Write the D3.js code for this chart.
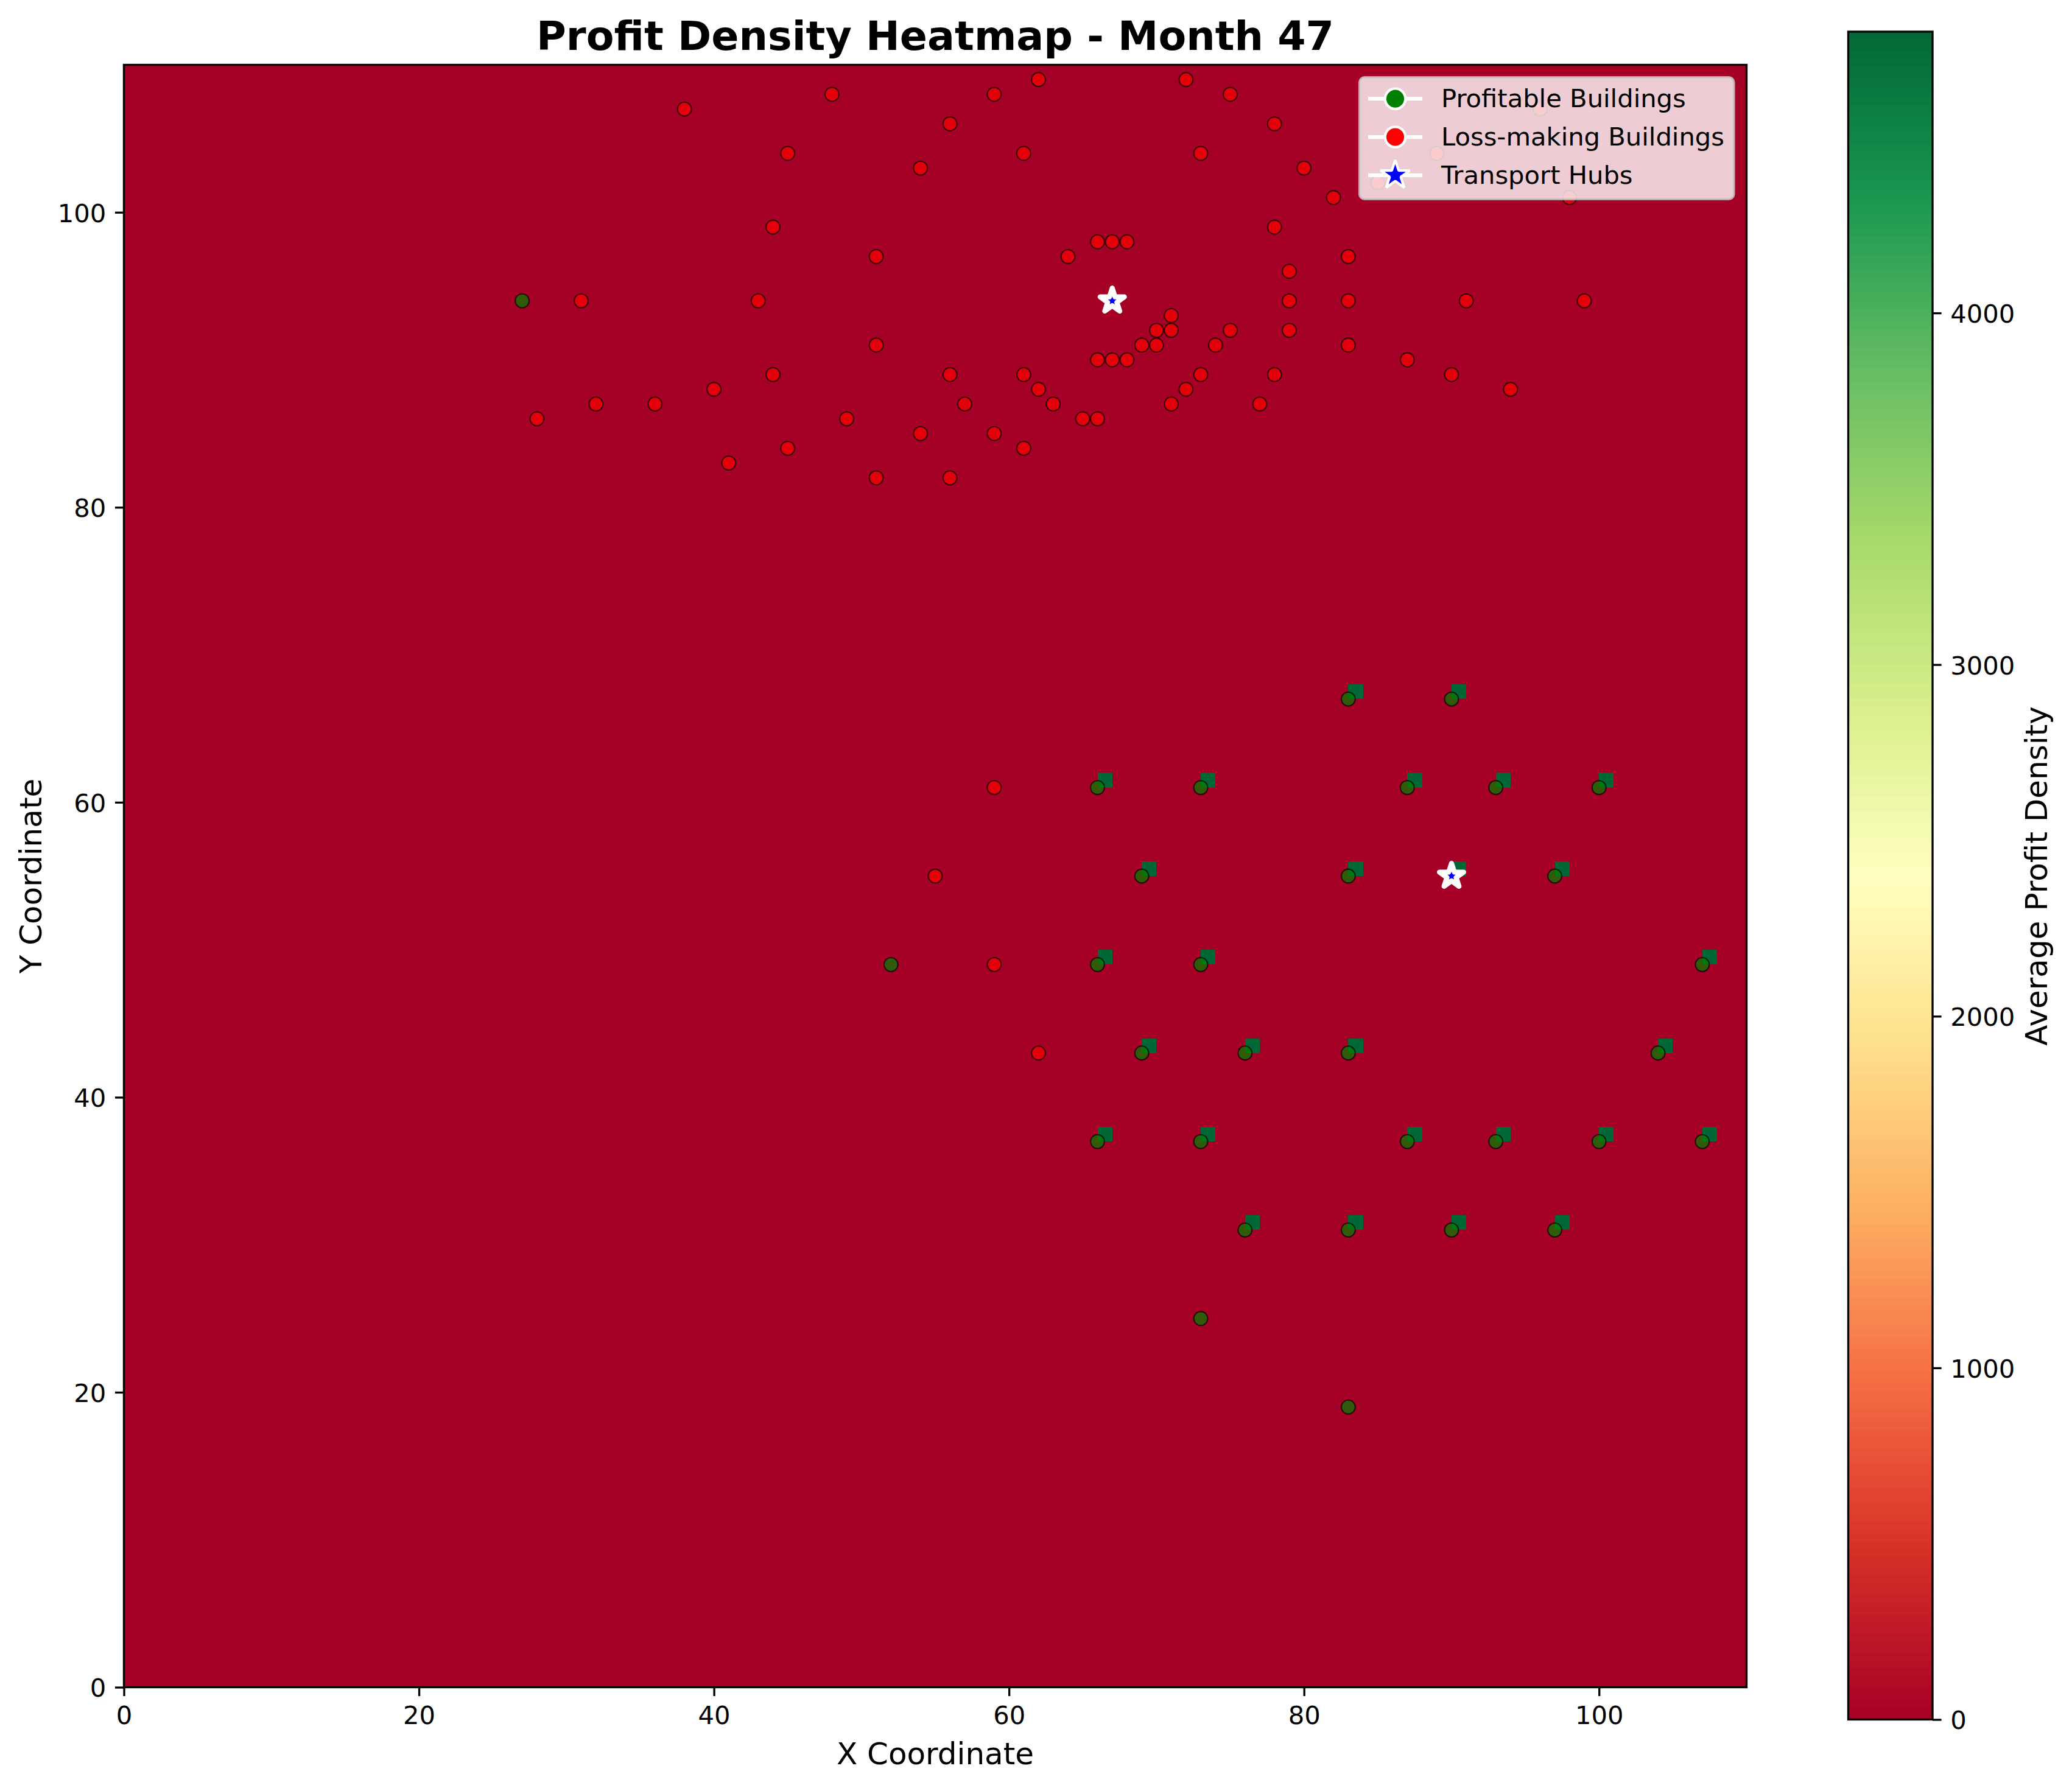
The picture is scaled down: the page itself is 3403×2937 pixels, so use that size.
<!DOCTYPE html>
<html>
<head>
<meta charset="utf-8">
<title>Profit Density Heatmap</title>
<script src="https://cdn.jsdelivr.net/npm/d3@7"></script>
<style>
html, body { margin: 0; padding: 0; background: #fff; }
svg { display: block; }
text { font-family: "DejaVu Sans", sans-serif; fill: #000; }
</style>
</head>
<body>
<svg id="chart"></svg>
<script>
// buildings, in grid coordinates
var lossX = [38,48,59,62,72,75,56,78,45,54,61,73,80,82,89,85,96,98,44,51,64,66,67,68,78,79,83,31,43,79,83,91,99,71,70,71,75,79,51,69,70,74,83,66,67,68,87,44,56,61,73,78,90,40,62,72,94,32,36,57,63,71,77,28,49,65,66,54,59,45,61,41,51,56,59,55,59,62];
var lossY = [107,108,108,109,109,108,106,106,104,103,104,104,103,101,104,102,107,101,99,97,97,98,98,98,99,96,97,94,94,94,94,94,94,93,92,92,92,92,91,91,91,91,91,90,90,90,90,89,89,89,89,89,89,88,88,88,88,87,87,87,87,87,87,86,86,86,86,85,85,84,84,83,82,82,61,55,49,43];
var profitX = [27,83,90,66,73,87,93,100,69,83,90,97,52,66,73,107,69,76,83,104,66,73,87,93,100,107,76,83,90,97,73,83];
var profitY = [94,67,67,61,61,61,61,61,55,55,55,55,49,49,49,49,43,43,43,43,37,37,37,37,37,37,31,31,31,31,25,19];
// average profit density of the grid cell each profitable building sits in
var profitDensity = [0,4800,4800,4800,4800,4800,4800,4800,4800,4800,4800,4800,0,4800,4800,4800,4800,4800,4800,4800,4800,4800,4800,4800,4800,4800,4800,4800,4800,4800,0,0];
var hubX = [67,90];
var hubY = [94,55];

var axisTicks = [0,20,40,60,80,100];
var densityTicks = [0,1000,2000,3000,4000];
var densityMax = 4800;
var gridSize = 110;
var legendLabels = ["Profitable Buildings","Loss-making Buildings","Transport Hubs"];
var legendColors = ["green","red","blue"];
var rdYlGn = ["#a50026","#d73027","#f46d43","#fdae61","#fee08b","#ffffbf","#d9ef8b","#a6d96a","#66bd63","#1a9850","#006837"];

var WIDTH = 3403, HEIGHT = 2937;
var PT = 300 / 72;
var plot = {left: 203.5, right: 2868.5, top: 106.5, bottom: 2771.5};
var bar = {left: 3035.5, right: 3174, top: 52, bottom: 2824.5};

var svg = d3.select("#chart").attr("width", WIDTH).attr("height", HEIGHT);

var x = d3.scaleLinear().domain([0, gridSize]).range([plot.left, plot.right]);
var y = d3.scaleLinear().domain([0, gridSize]).range([plot.bottom, plot.top]);
var color = d3.scaleSequential(d3.piecewise(d3.interpolateRgb, rdYlGn)).domain([0, densityMax]);

// heatmap: empty grid, then the cells that have a value
var g = svg.append("g");
g.append("rect")
    .attr("x", x(0)).attr("y", y(gridSize))
    .attr("width", x(gridSize) - x(0)).attr("height", y(0) - y(gridSize))
    .attr("fill", color(0));
g.selectAll("rect.cell")
    .data(d3.range(profitX.length).filter(function(i) { return profitDensity[i] > 0; }))
    .enter().append("rect")
    .attr("class", "cell")
    .attr("shape-rendering", "crispEdges")
    .attr("x", function(i) { return x(profitX[i]); })
    .attr("y", function(i) { return y(profitY[i] + 1); })
    .attr("width", function(i) { return x(profitX[i] + 1) - x(profitX[i]); })
    .attr("height", function(i) { return y(profitY[i]) - y(profitY[i] + 1); })
    .attr("fill", function(i) { return color(profitDensity[i]); });

function drawBuildings(xs, ys, fill) {
    g.selectAll(null)
        .data(d3.range(xs.length))
        .enter().append("circle")
        .attr("cx", function(i) { return x(xs[i]); })
        .attr("cy", function(i) { return y(ys[i]); })
        .attr("r", Math.sqrt(30) / 2 * PT)
        .attr("fill", fill)
        .attr("fill-opacity", 0.7)
        .attr("stroke", "#000")
        .attr("stroke-opacity", 0.7)
        .attr("stroke-width", 0.5 * PT);
}
drawBuildings(profitX, profitY, "green");
drawBuildings(lossX, lossY, "red");

function starPath(radius) {
    return d3.symbol().type(d3.symbolStar).size(radius * radius / 0.8908130915292852)();
}
g.selectAll("path.hub")
    .data(d3.range(hubX.length))
    .enter().append("path")
    .attr("class", "hub")
    .attr("d", starPath(5 * PT))
    .attr("transform", function(i) { return "translate(" + x(hubX[i]) + "," + y(hubY[i]) + ")"; })
    .attr("fill", "blue")
    .attr("stroke", "#fff")
    .attr("stroke-width", 2 * PT)
    .attr("stroke-linejoin", "round");

// axes
function styleAxis(sel) {
    sel.attr("font-size", null).attr("font-family", null);
    sel.selectAll("text").style("font-size", (10 * PT) + "px");
    sel.selectAll("line").attr("stroke", "#000").attr("stroke-width", 0.8 * PT);
    sel.select(".domain").remove();
}
var tickLen = 3.5 * PT;
svg.append("g")
    .attr("transform", "translate(0," + plot.bottom + ")")
    .call(d3.axisBottom(x).tickValues(axisTicks).tickFormat(d3.format("d")).tickSize(tickLen).tickPadding(tickLen))
    .call(styleAxis)
    .selectAll("text").attr("dy", "0.76em");
svg.append("g")
    .attr("transform", "translate(" + plot.left + ",0)")
    .call(d3.axisLeft(y).tickValues(axisTicks).tickFormat(d3.format("d")).tickSize(tickLen).tickPadding(tickLen))
    .call(styleAxis)
    .selectAll("text").attr("dy", "0.37em");
svg.append("rect")
    .attr("x", plot.left).attr("y", plot.top)
    .attr("width", plot.right - plot.left).attr("height", plot.bottom - plot.top)
    .attr("fill", "none").attr("stroke", "#000").attr("stroke-width", 0.8 * PT);

svg.append("text")
    .attr("x", 1536).attr("y", 82)
    .attr("text-anchor", "middle")
    .style("font-size", (16 * PT) + "px").style("font-weight", "bold")
    .text("Profit Density Heatmap - Month 47");
svg.append("text")
    .attr("x", 1536).attr("y", 2897.5)
    .attr("text-anchor", "middle")
    .style("font-size", (12 * PT) + "px")
    .text("X Coordinate");
svg.append("text")
    .attr("transform", "translate(68,1439) rotate(-90)")
    .attr("text-anchor", "middle")
    .style("font-size", (12 * PT) + "px")
    .text("Y Coordinate");

// colorbar
var barScale = d3.scaleLinear().domain([0, densityMax]).range([bar.bottom, bar.top]);
var levels = d3.range(256);
svg.append("g").selectAll("rect")
    .data(levels)
    .enter().append("rect")
    .attr("shape-rendering", "crispEdges")
    .attr("x", bar.left)
    .attr("width", bar.right - bar.left)
    .attr("y", function(d) { return barScale((d + 1) / 256 * densityMax); })
    .attr("height", (bar.bottom - bar.top) / 256 + 1)
    .attr("fill", function(d) { return color((d + 0.5) / 256 * densityMax); });
svg.append("rect")
    .attr("x", bar.left).attr("y", bar.top)
    .attr("width", bar.right - bar.left).attr("height", bar.bottom - bar.top)
    .attr("fill", "none").attr("stroke", "#000").attr("stroke-width", 0.8 * PT);
svg.append("g")
    .attr("transform", "translate(" + bar.right + ",0)")
    .call(d3.axisRight(barScale).tickValues(densityTicks).tickFormat(d3.format("d")).tickSize(tickLen).tickPadding(tickLen))
    .call(styleAxis)
    .selectAll("text").attr("dy", "0.37em");
svg.append("text")
    .attr("transform", "translate(3362,1439) rotate(-90)")
    .attr("text-anchor", "middle")
    .style("font-size", (12 * PT) + "px")
    .text("Average Profit Density");

// legend
var legend = svg.append("g");
legend.append("rect")
    .attr("x", 2233).attr("y", 127)
    .attr("width", 614.5).attr("height", 200)
    .attr("rx", 8.3).attr("ry", 8.3)
    .attr("fill", "#fff").attr("fill-opacity", 0.8)
    .attr("stroke", "#ccc").attr("stroke-opacity", 0.8)
    .attr("stroke-width", PT);
var rows = legend.selectAll("g")
    .data(legendLabels)
    .enter().append("g")
    .attr("transform", function(d, i) { return "translate(0," + (162.2 + i * 62.8) + ")"; });
rows.append("line")
    .attr("x1", 2247).attr("x2", 2336)
    .attr("stroke", "#fff").attr("stroke-width", 1.5 * PT);
rows.each(function(d, i) {
    var row = d3.select(this);
    if (i < 2) {
        row.append("circle")
            .attr("cx", 2291.5).attr("r", 4 * PT)
            .attr("fill", legendColors[i]).attr("stroke", "#fff").attr("stroke-width", PT);
    } else {
        row.append("path")
            .attr("d", starPath(6 * PT))
            .attr("transform", "translate(2291.5,0)")
            .attr("fill", legendColors[i]).attr("stroke", "#fff").attr("stroke-width", PT)
            .attr("stroke-linejoin", "bevel");
    }
});
rows.append("text")
    .attr("x", 2367).attr("y", 14)
    .style("font-size", (10 * PT) + "px")
    .text(function(d) { return d; });
</script>
</body>
</html>
